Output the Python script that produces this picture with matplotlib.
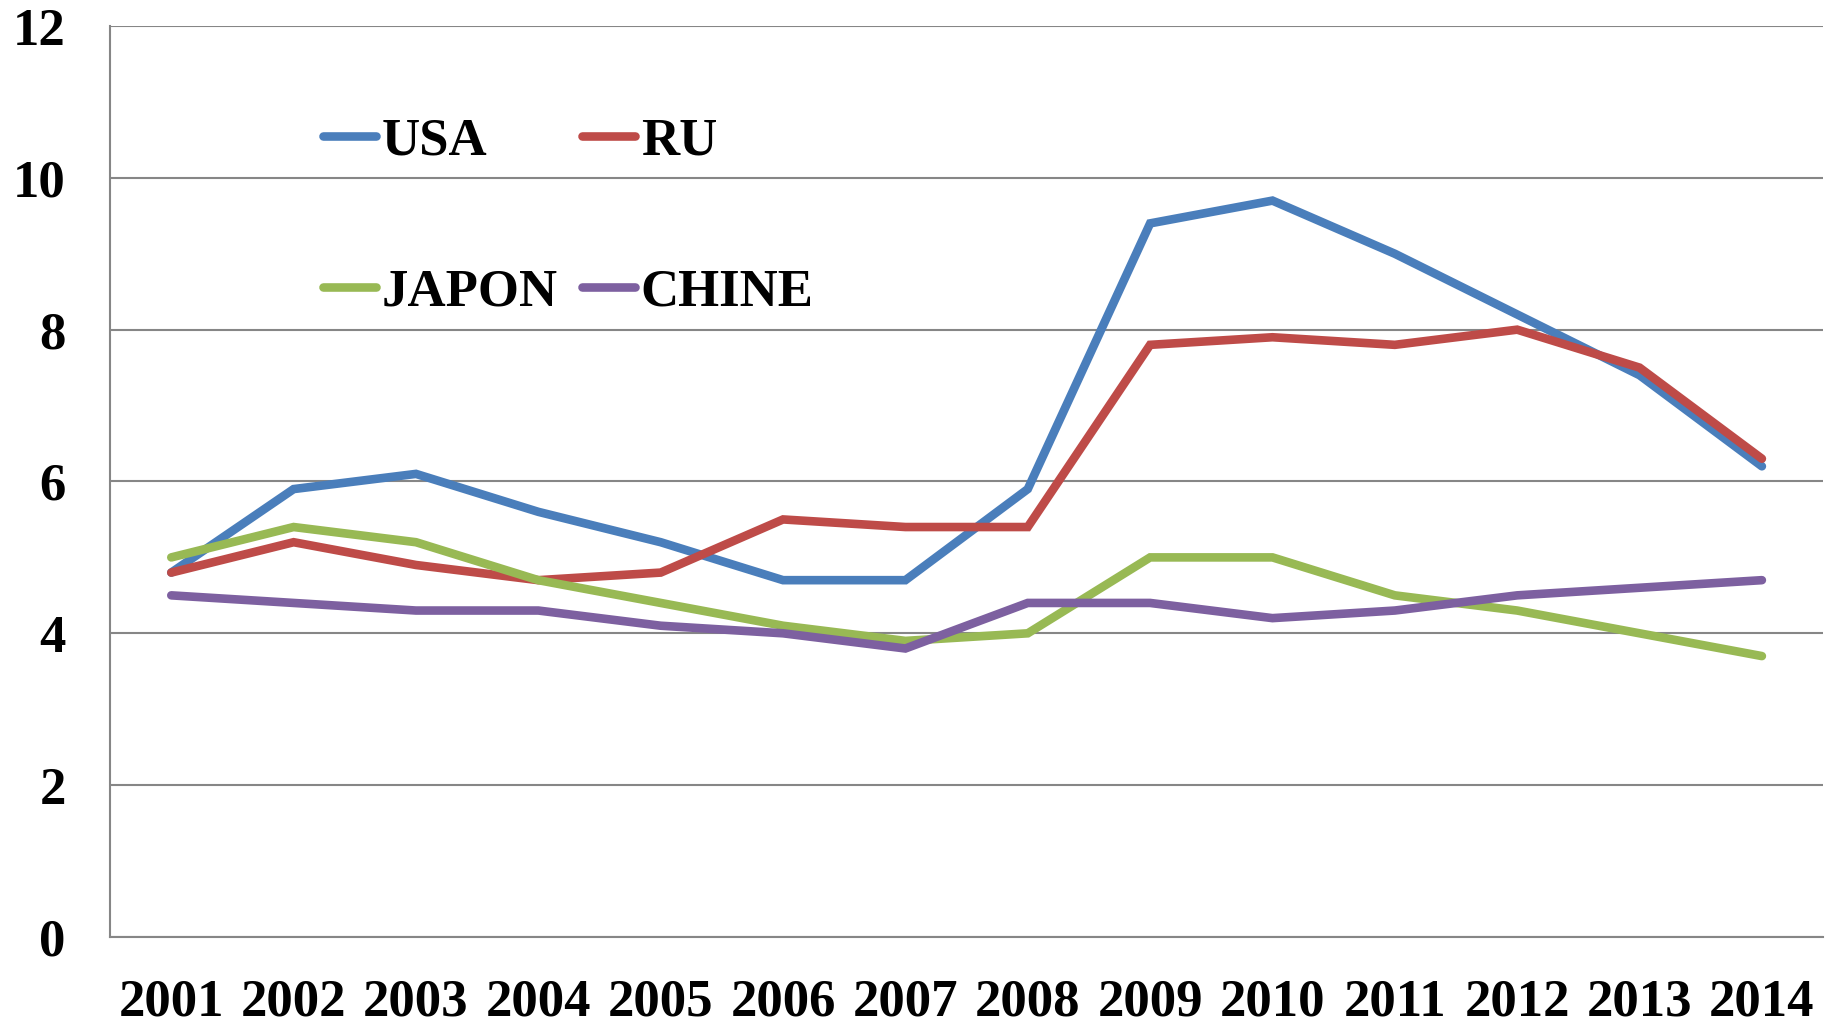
import matplotlib
matplotlib.use("Agg")
import matplotlib.pyplot as plt

# donnees
annees = ["2001", "2002", "2003", "2004", "2005", "2006", "2007",
          "2008", "2009", "2010", "2011", "2012", "2013", "2014"]
usa = [4.8, 5.9, 6.1, 5.6, 5.2, 4.7, 4.7, 5.9, 9.4, 9.7, 9.0, 8.2, 7.4, 6.2]
ru = [4.8, 5.2, 4.9, 4.7, 4.8, 5.5, 5.4, 5.4, 7.8, 7.9, 7.8, 8.0, 7.5, 6.3]
japon = [5.0, 5.4, 5.2, 4.7, 4.4, 4.1, 3.9, 4.0, 5.0, 5.0, 4.5, 4.3, 4.0, 3.7]
chine = [4.5, 4.4, 4.3, 4.3, 4.1, 4.0, 3.8, 4.4, 4.4, 4.2, 4.3, 4.5, 4.6, 4.7]

series = [("USA", usa, "#4A7EBB"), ("RU", ru, "#BE4B48"),
          ("JAPON", japon, "#98B954"), ("CHINE", chine, "#7D60A0")]

plt.rcParams["font.family"] = ["Liberation Serif", "DejaVu Serif"]
plt.rcParams["font.weight"] = "bold"

fig = plt.figure(figsize=(18.35, 10.24), dpi=100)
ax = fig.add_axes([0.060, 0.085, 0.9335, 0.8896])

x = list(range(len(annees)))
lignes = []
for nom, valeurs, couleur in series:
    l, = ax.plot(x, valeurs, color=couleur, lw=6.2, label=nom,
                 solid_capstyle="round", solid_joinstyle="miter")
    lignes.append(l)

ax.set_xlim(-0.5, len(annees) - 0.5)
ax.set_ylim(0, 12)
ax.set_yticks(range(0, 13, 2))
ax.set_xticks(x)
ax.set_xticklabels(annees)
ax.tick_params(axis="both", length=0, labelsize=38)
ax.tick_params(axis="y", pad=32)
ax.tick_params(axis="x", pad=30)
for lab in ax.get_xticklabels() + ax.get_yticklabels():
    lab.set_fontweight("bold")

ax.grid(axis="y", color="#868686", lw=1.5)
ax.set_axisbelow(True)
for cote in ["top", "right"]:
    ax.spines[cote].set_visible(False)
for cote in ["left", "bottom"]:
    ax.spines[cote].set_color("#868686")
    ax.spines[cote].set_linewidth(1.5)

# ordre : USA, RU / JAPON, CHINE
leg = ax.legend(handles=[lignes[0], lignes[2], lignes[1], lignes[3]],
                ncol=2, frameon=False,
                prop={"weight": "bold", "size": 38},
                handlelength=1.0, handletextpad=0.12,
                columnspacing=0.45, labelspacing=1.95,
                loc="upper left", bbox_to_anchor=(0.1615, 0.911),
                bbox_transform=fig.transFigure, borderpad=0)

fig.savefig("out.png", dpi=100)
